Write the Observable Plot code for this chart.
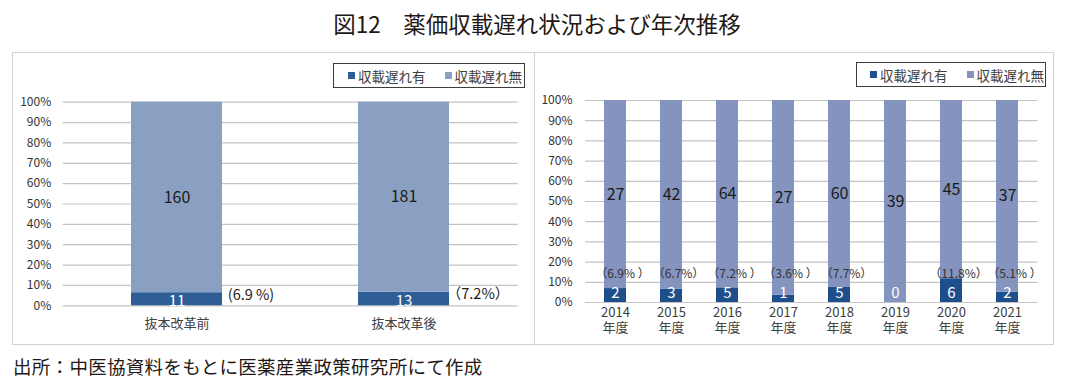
<!DOCTYPE html>
<html><head><meta charset="utf-8">
<script src="https://cdn.jsdelivr.net/npm/d3@7"></script>
<script src="https://cdn.jsdelivr.net/npm/@observablehq/plot@0.6"></script>
<style>
body{margin:0;background:#fff;font-family:"Noto Sans CJK JP",sans-serif;}
#root{position:relative;width:1074px;height:388px;overflow:hidden;background:#fff;}
.title{position:absolute;left:0;width:1074px;top:7px;text-align:center;font-size:22.5px;color:#231815;line-height:32px;white-space:nowrap;}
.panel{position:absolute;top:52px;height:293px;border:1.5px solid #d2d2d2;box-sizing:border-box;}
.legend{position:absolute;border:1.5px solid #3c3c3c;box-sizing:border-box;height:25px;font-size:13.5px;color:#404040;display:flex;align-items:center;white-space:nowrap;}
.legend .item{display:flex;align-items:center;}
.sw{display:inline-block;width:7px;height:7px;margin-right:3px;}
.caption{position:absolute;left:13px;top:353px;font-size:18.5px;color:#231815;line-height:26px;white-space:nowrap;letter-spacing:0.3px;}
.chart{position:absolute;}
</style></head>
<body>
<div id="root">
  <div class="title">図12　薬価収載遅れ状況および年次推移</div>
  <div class="panel" style="left:12px;width:523px;"></div>
  <div class="panel" style="left:534px;width:520px;"></div>
  <div id="legL" class="legend" style="left:333px;top:63px;width:192px;padding-left:14px;"></div>
  <div id="legR" class="legend" style="left:856px;top:62px;width:190px;padding-left:13px;"></div>
  <div id="chartL" class="chart" style="left:12px;top:90px;"></div>
  <div id="chartR" class="chart" style="left:534px;top:88px;"></div>
  <div class="caption">出所：中医協資料をもとに医薬産業政策研究所にて作成</div>
</div>
<script>
// ---- data ----
const seriesNames = ["収載遅れ有", "収載遅れ無"];
const leftCategories = ["抜本改革前", "抜本改革後"];
const leftDelayed = [11, 13];
const leftNotDelayed = [160, 181];
const leftShareLabels = ["(6.9 %)", "（7.2%）"];
const rightCategories = ["2014", "2015", "2016", "2017", "2018", "2019", "2020", "2021"];
const rightDelayed = [2, 3, 5, 1, 5, 0, 6, 2];
const rightNotDelayed = [27, 42, 64, 27, 60, 39, 45, 37];
const rightShareLabels = ["（6.9% ）", "（6.7%）", "（7.2% ）", "（3.6% ）", "（7.7%）", "", "（11.8%）", "（5.1% ）"];
const yTicks = [0, 0.1, 0.2, 0.3, 0.4, 0.5, 0.6, 0.7, 0.8, 0.9, 1.0];
const rightYearSuffix = "年度";

const leftColors = ["#2f5e97", "#8aa0c3"];
const rightColors = ["#1f4e8c", "#8494be"];

function rowsOf(cats, del, nd, share) {
  return cats.map((c, i) => {
    const t = del[i] + nd[i];
    const f = t ? del[i] / t : 0;
    return {cat: c, d: del[i], n: nd[i], f, top: (f + 1) / 2, share: share[i]};
  });
}

function legend(el, colors) {
  el.innerHTML = seriesNames.map((s, i) =>
    `<span class="item" style="margin-right:${i === 0 ? 19 : 0}px"><span class="sw" style="background:${colors[i]}"></span>${s}</span>`
  ).join("");
}
legend(document.getElementById("legL"), leftColors);
legend(document.getElementById("legR"), rightColors);

const font = "Noto Sans CJK JP, Noto Sans, sans-serif";
const pct = d3.format(".0%");

// ---- left chart ----
const L = rowsOf(leftCategories, leftDelayed, leftNotDelayed, leftShareLabels);
const left = Plot.plot({
  width: 523, height: 250,
  marginLeft: 50.7, marginRight: 17.3, marginTop: 11.7, marginBottom: 34.7,
  style: {fontFamily: font, background: "transparent", overflow: "visible"},
  x: {domain: leftCategories, paddingInner: 0.6, paddingOuter: 0.3},
  y: {domain: [0, 1]},
  marks: [
    Plot.ruleY(yTicks, {stroke: "#c3c3c3", strokeWidth: 1.2}),
    Plot.barY(L, {x: "cat", y1: 0, y2: "f", fill: leftColors[0]}),
    Plot.barY(L, {x: "cat", y1: "f", y2: 1, fill: leftColors[1]}),
    Plot.text(L, {x: "cat", y: "top", text: "n", fontSize: 16, fill: "#1a1a1a"}),
    Plot.text(L, {x: "cat", y: d => d.f / 2, text: "d", fontSize: 15, fill: "#ffffff", dy: 2}),
    Plot.text(L, {x: "cat", y: "f", text: "share", dx: 74, dy: 2.5, fontSize: 14.5, fill: "#1a1a1a"}),
    Plot.axisY(yTicks, {tickFormat: pct, tickSize: 0, tickPadding: 12, fontSize: 12, color: "#333", label: null}),
    Plot.axisX({tickSize: 0, tickPadding: 13, fontSize: 13, color: "#404040", label: null})
  ]
});
document.getElementById("chartL").appendChild(left);

// ---- right chart ----
const R = rowsOf(rightCategories, rightDelayed, rightNotDelayed, rightShareLabels);
const right = Plot.plot({
  width: 520, height: 256,
  marginLeft: 51, marginRight: 16.7, marginTop: 12, marginBottom: 42,
  style: {fontFamily: font, background: "transparent", overflow: "visible"},
  x: {domain: rightCategories, paddingInner: 0.61, paddingOuter: 0.305},
  y: {domain: [0, 1]},
  marks: [
    Plot.ruleY(yTicks, {stroke: "#c3c3c3", strokeWidth: 1.2}),
    Plot.barY(R, {x: "cat", y1: 0, y2: "f", fill: rightColors[0]}),
    Plot.barY(R, {x: "cat", y1: "f", y2: 1, fill: rightColors[1]}),
    Plot.text(R, {x: "cat", y: "top", text: "n", fontSize: 16, fill: "#1a1a1a"}),
    Plot.text(R, {x: "cat", y: 0.045, text: "d", fontSize: 15, fill: "#ffffff"}),
    Plot.text(R, {x: "cat", y: 0.142, text: "share", dx: 7, fontSize: 12, fill: "#333"}),
    Plot.axisY(yTicks, {tickFormat: pct, tickSize: 0, tickPadding: 13, fontSize: 12, color: "#333", label: null}),
    Plot.axisX({tickSize: 0, tickPadding: 5, fontSize: 13, color: "#404040", label: null, tickFormat: d => d}),
    Plot.axisX({tickSize: 0, tickPadding: 20, fontSize: 13, color: "#404040", label: null, tickFormat: () => rightYearSuffix})
  ]
});
document.getElementById("chartR").appendChild(right);
</script>
</body></html>
